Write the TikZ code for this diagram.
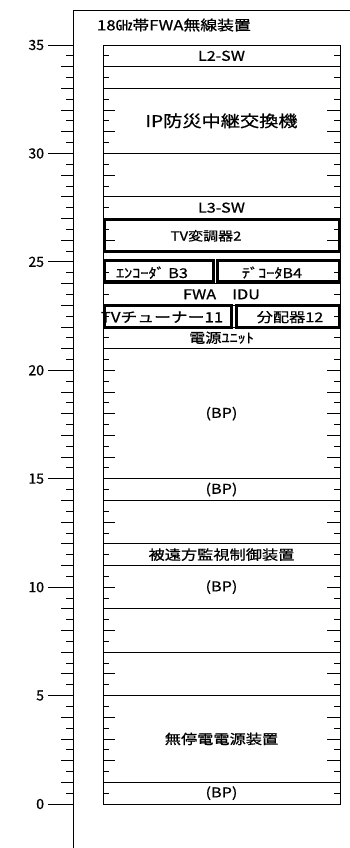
\documentclass[tikz,border=0pt]{standalone}
\usepackage{fontspec}
\usepackage{tikz}
\usetikzlibrary{positioning}
\newfontfamily\jafont[FakeStretch=1.2,FakeBold=0.8]{Noto Sans CJK JP}
\newfontfamily\digitfont[FakeBold=0.6]{Noto Sans CJK JP}

\begin{document}
\begin{tikzpicture}[
    x=1pt, y=21.686pt,
    line width=0.8pt,
    every node/.style={font=\jafont\fontsize{13.5}{15}\selectfont, inner sep=0pt, outer sep=0pt},
    slot/.style={
        draw,
        rectangle,
        minimum width=237pt,
        minimum height=#1*21.686pt,
        inner sep=0pt,
        outer sep=0pt
    },
    board/.style={
        draw,
        rectangle,
        line width=2.8pt,
        anchor=north west,
        minimum height=#1*21.686pt
    },
    ulabel/.style={font=\digitfont\fontsize{14}{16}\selectfont, anchor=east},
    big/.style={font=\jafont\fontsize{16}{18}\selectfont},
    small/.style={font=\jafont\fontsize{12.5}{15}\selectfont}
]

\useasboundingbox (0,-2.029) rectangle (350,37.075);

% frame and title
\draw (73,-2.029) -- (73,36.61) -- (350,36.61);
\node[anchor=west, font=\jafont\fontsize{14}{16}\selectfont] (title) at (97,35.92) {18㎓帯FWA無線装置};

% unit scale
\foreach \v in {0,5,...,35} {
    \node[ulabel] (u\v) at (44,\v) {\v};
    \draw (48,\v) -- (73,\v);
}
\foreach \v in {1,...,34} \draw (61,\v) -- (73,\v);
\foreach \v in {0,...,34} \draw (66,\v+0.5) -- (73,\v+0.5);

% rack ticks
\foreach \v in {1,...,34} {
    \draw (103,\v) -- (115,\v);
    \draw (327,\v) -- (340,\v);
}
\foreach \v in {0,...,34} {
    \draw (103,\v+0.5) -- (109,\v+0.5);
    \draw (334,\v+0.5) -- (340,\v+0.5);
}

% rack slots
\node[slot=1, anchor=north west] (l2sw) at (103,35) {L2-SW};
\node[slot=1, below=0pt of l2sw] (free1) {};
\node[slot=3, big, below=0pt of free1] (ipsw) {IP防災中継交換機};
\node[slot=2, below=0pt of ipsw] (free2) {};
\node[slot=1, below=0pt of free2] (l3sw) {L3-SW};
\node[slot=3, below=0pt of l3sw] (tvarea) {};
\node[slot=1, below=0pt of tvarea] (fwaidu) {FWA　IDU};
\node[slot=1, below=0pt of fwaidu] (tunerarea) {};
\node[slot=1, below=0pt of tunerarea] (psu) {電源ﾕﾆｯﾄ};
\node[slot=6, below=0pt of psu] (bp1) {(BP)};
\node[slot=1, below=0pt of bp1] (bp2) {(BP)};
\node[slot=2, below=0pt of bp2] (free3) {};
\node[slot=1, below=0pt of free3] (rms) {被遠方監視制御装置};
\node[slot=2, below=0pt of rms] (bp3) {(BP)};
\node[slot=2, below=0pt of bp3] (free4) {};
\node[slot=2, below=0pt of free4] (free5) {};
\node[slot=4, below=0pt of free5] (ups) {無停電電源装置};
\node[slot=1, below=0pt of ups] (bp4) {(BP)};

% mounted boards
\node[board=1.47, minimum width=235.2pt] (tvmod) at (104.4,26.94) {};
\node[board=0.98, minimum width=109.2pt] (enc) at (104.4,25.07) {};
\node[board=0.98, minimum width=122.2pt] (dec) at (217.4,25.07) {};
\node[board=1.02, minimum width=127.2pt] (tuner) at (104.4,22.99) {};
\node[board=1.02, minimum width=103.2pt] (split) at (236.4,22.99) {};

\node[small] (tvmodtxt) at (206,26.2) {TV変調器2};
\node (enctxt) at (152,24.5) {ｴﾝｺｰﾀﾞ B3};
\node (dectxt) at (272,24.5) {ﾃﾞｺｰﾀB4};
\node[font=\jafont\fontsize{14}{16}\selectfont] (tunertxt) at (162,22.45) {TVチューナー11};
\node (splittxt) at (290,22.45) {分配器12};

\end{tikzpicture}
\end{document}
